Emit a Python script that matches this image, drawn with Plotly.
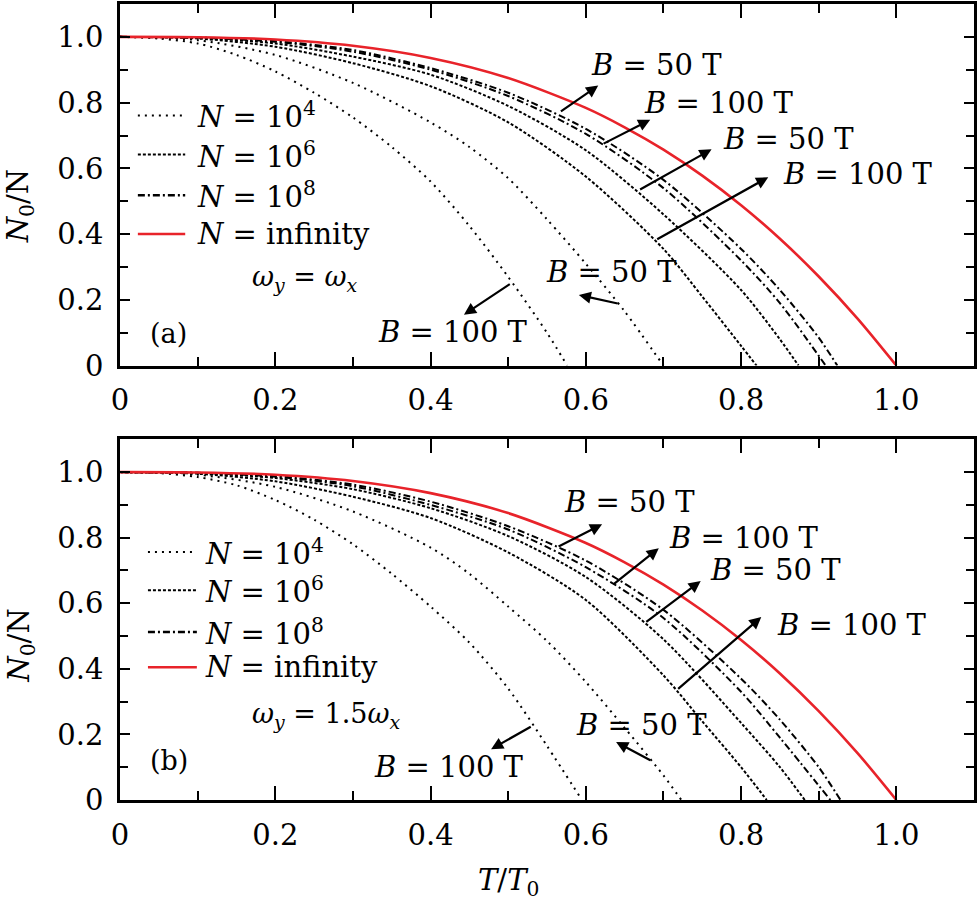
import plotly.graph_objects as go

# ---------------- data ----------------
t_inf = [0, 0.1, 0.2, 0.3, 0.4, 0.5, 0.6, 0.65, 0.7, 0.75, 0.8, 0.85, 0.9, 0.95, 1.0]
n_inf = [1.0, 0.999, 0.992, 0.973, 0.936, 0.875, 0.784, 0.725, 0.657, 0.578, 0.488, 0.386, 0.271, 0.143, 0.0]

# panel (a): omega_y = omega_x
a_t_4_100 = [0, 0.05, 0.1, 0.15, 0.2, 0.25, 0.3, 0.35, 0.4, 0.45, 0.5, 0.55, 0.576]
a_n_4_100 = [1, 0.995, 0.98, 0.945, 0.895, 0.83, 0.755, 0.665, 0.56, 0.425, 0.27, 0.1, 0]
a_t_4_50 = [0, 0.1, 0.2, 0.3, 0.4, 0.45, 0.5, 0.55, 0.6, 0.65, 0.7]
a_n_4_50 = [1, 0.99, 0.945, 0.86, 0.74, 0.665, 0.57, 0.445, 0.31, 0.165, 0]
a_t_6_100 = [0, 0.1, 0.2, 0.3, 0.4, 0.5, 0.6, 0.7, 0.75, 0.8, 0.82]
a_n_6_100 = [1, 0.995, 0.97, 0.92, 0.85, 0.74, 0.575, 0.355, 0.21, 0.06, 0]
a_t_6_50 = [0, 0.1, 0.2, 0.3, 0.4, 0.5, 0.6, 0.7, 0.8, 0.85, 0.874]
a_n_6_50 = [1, 0.997, 0.98, 0.94, 0.885, 0.79, 0.655, 0.46, 0.23, 0.08, 0]
a_t_8_100 = [0, 0.1, 0.2, 0.3, 0.4, 0.5, 0.6, 0.7, 0.8, 0.85, 0.909]
a_n_8_100 = [1, 0.998, 0.985, 0.955, 0.9, 0.82, 0.705, 0.54, 0.32, 0.19, 0]
a_t_8_50 = [0, 0.1, 0.2, 0.3, 0.4, 0.5, 0.6, 0.7, 0.8, 0.85, 0.9, 0.924]
a_n_8_50 = [1, 0.998, 0.987, 0.96, 0.905, 0.83, 0.72, 0.565, 0.355, 0.23, 0.085, 0]

# panel (b): omega_y = 1.5 omega_x
b_t_4_100 = [0, 0.05, 0.1, 0.15, 0.2, 0.25, 0.3, 0.35, 0.4, 0.45, 0.5, 0.55, 0.595]
b_n_4_100 = [1, 0.997, 0.985, 0.96, 0.915, 0.855, 0.78, 0.69, 0.59, 0.48, 0.34, 0.165, 0]
b_t_4_50 = [0, 0.1, 0.2, 0.3, 0.4, 0.45, 0.5, 0.55, 0.6, 0.65, 0.7, 0.723]
b_n_4_50 = [1, 0.992, 0.955, 0.88, 0.77, 0.69, 0.59, 0.485, 0.36, 0.22, 0.075, 0]
b_t_6_100 = [0, 0.1, 0.2, 0.3, 0.4, 0.5, 0.6, 0.7, 0.75, 0.8, 0.833]
b_n_6_100 = [1, 0.995, 0.972, 0.925, 0.86, 0.755, 0.61, 0.38, 0.24, 0.1, 0]
b_t_6_50 = [0, 0.1, 0.2, 0.3, 0.4, 0.5, 0.6, 0.7, 0.8, 0.85, 0.882]
b_n_6_50 = [1, 0.997, 0.982, 0.948, 0.89, 0.805, 0.68, 0.49, 0.235, 0.1, 0]
b_t_8_100 = [0, 0.1, 0.2, 0.3, 0.4, 0.5, 0.6, 0.7, 0.8, 0.85, 0.915]
b_n_8_100 = [1, 0.998, 0.986, 0.957, 0.9, 0.825, 0.71, 0.555, 0.33, 0.19, 0]
b_t_8_50 = [0, 0.1, 0.2, 0.3, 0.4, 0.5, 0.6, 0.7, 0.8, 0.85, 0.9, 0.928]
b_n_8_50 = [1, 0.998, 0.988, 0.962, 0.91, 0.835, 0.73, 0.58, 0.37, 0.245, 0.1, 0]

tick_vals = [0, 0.2, 0.4, 0.6, 0.8, 1.0]
tick_text = ["0", "0.2", "0.4", "0.6", "0.8", "1.0"]

legend_labels = ["<i>N</i> = 10<sup>4</sup>", "<i>N</i> = 10<sup>6</sup>",
                 "<i>N</i> = 10<sup>8</sup>", "<i>N</i> = infinity"]

# (label, tail x, tail y, head x, head y, text x(left), text y)
a_notes = [
    ("<i>B</i> = 50 T", 0.566, 0.770, 0.616, 0.852, 0.604, 0.915),
    ("<i>B</i> = 100 T", 0.621, 0.673, 0.683, 0.748, 0.672, 0.800),
    ("<i>B</i> = 50 T", 0.668, 0.533, 0.762, 0.658, 0.774, 0.688),
    ("<i>B</i> = 100 T", 0.690, 0.382, 0.835, 0.573, 0.851, 0.582),
    ("<i>B</i> = 50 T", 0.643, 0.188, 0.591, 0.215, 0.546, 0.285),
    ("<i>B</i> = 100 T", 0.504, 0.251, 0.443, 0.155, 0.330, 0.103),
]
b_notes = [
    ("<i>B</i> = 50 T", 0.563, 0.771, 0.621, 0.841, 0.569, 0.909),
    ("<i>B</i> = 100 T", 0.634, 0.655, 0.694, 0.768, 0.704, 0.799),
    ("<i>B</i> = 50 T", 0.676, 0.540, 0.748, 0.668, 0.758, 0.701),
    ("<i>B</i> = 100 T", 0.717, 0.335, 0.826, 0.558, 0.844, 0.534),
    ("<i>B</i> = 50 T", 0.685, 0.119, 0.639, 0.177, 0.585, 0.229),
    ("<i>B</i> = 100 T", 0.531, 0.226, 0.478, 0.155, 0.324, 0.101),
]

FONT = "DejaVu Serif"
FS = 29
RED = "#e8232a"
DASH4 = "2px,5px"
DASH6 = "3px,2px"
DASH8 = "7px,3px,2px,3px"

fig = go.Figure()

def add_panel(xa, ya, series):
    for t, n, dash, color, w in series:
        fig.add_trace(go.Scatter(x=t, y=n, mode="lines", xaxis=xa, yaxis=ya,
                                 line=dict(color=color, width=w, dash=dash, shape="spline", smoothing=0.8),
                                 showlegend=False, hoverinfo="skip"))

add_panel("x", "y", [
    (a_t_4_100, a_n_4_100, DASH4, "black", 2),
    (a_t_4_50, a_n_4_50, DASH4, "black", 2),
    (a_t_6_100, a_n_6_100, DASH6, "black", 2),
    (a_t_6_50, a_n_6_50, DASH6, "black", 2),
    (a_t_8_100, a_n_8_100, DASH8, "black", 2),
    (a_t_8_50, a_n_8_50, DASH8, "black", 2),
    (t_inf, n_inf, "solid", RED, 2.6),
])
add_panel("x2", "y2", [
    (b_t_4_100, b_n_4_100, DASH4, "black", 2),
    (b_t_4_50, b_n_4_50, DASH4, "black", 2),
    (b_t_6_100, b_n_6_100, DASH6, "black", 2),
    (b_t_6_50, b_n_6_50, DASH6, "black", 2),
    (b_t_8_100, b_n_8_100, DASH8, "black", 2),
    (b_t_8_50, b_n_8_50, DASH8, "black", 2),
    (t_inf, n_inf, "solid", RED, 2.6),
])

def xaxis_cfg(anchor):
    return dict(range=[0, 1.1], tickmode="array", tickvals=tick_vals, ticktext=tick_text,
                ticks="inside", ticklen=14, tickwidth=2, tickcolor="black",
                minor=dict(dtick=0.1, tick0=0, ticks="inside", ticklen=9, tickwidth=2, tickcolor="black"),
                mirror="ticks", showline=True, linewidth=2.5, linecolor="black",
                showgrid=False, zeroline=False, anchor=anchor,
                tickfont=dict(family=FONT, size=FS, color="black"), ticklabelstandoff=7)

def yaxis_cfg(anchor, domain):
    return dict(range=[0, 1.1], tickmode="array", tickvals=tick_vals, ticktext=tick_text,
                ticks="inside", ticklen=10, tickwidth=2, tickcolor="black",
                minor=dict(dtick=0.1, tick0=0, ticks="inside", ticklen=8, tickwidth=2, tickcolor="black"),
                mirror="ticks", showline=True, linewidth=2.5, linecolor="black",
                showgrid=False, zeroline=False, anchor=anchor, domain=domain,
                tickfont=dict(family=FONT, size=FS, color="black"), ticklabelstandoff=8)

annotations = []
shapes = []

def legend(xr, yr, sx0, sx1, tx, rows, omega_text, omega_x, omega_y, omega_shift, panel_text, px, py):
    styles = [(DASH4, "black", 2), (DASH6, "black", 2), (DASH8, "black", 2.5), ("solid", RED, 2.5)]
    for (dash, color, w), label, ry in zip(styles, legend_labels, rows):
        shapes.append(dict(type="line", xref=xr, yref=yr, x0=sx0, x1=sx1, y0=ry, y1=ry,
                           line=dict(color=color, width=w, dash=dash)))
        annotations.append(dict(xref=xr, yref=yr, x=tx, y=ry, text=label, showarrow=False,
                                xanchor="left", yanchor="middle", align="left",
                                font=dict(family=FONT, size=FS, color="black")))
    annotations.append(dict(xref=xr, yref=yr, x=omega_x, y=omega_y, text=omega_text, showarrow=False,
                            xanchor="left", yanchor="middle", align="left", xshift=omega_shift,
                            font=dict(family=FONT, size=FS - 2, color="black")))
    annotations.append(dict(xref=xr, yref=yr, x=px, y=py, text=panel_text, showarrow=False,
                            xanchor="center", yanchor="middle",
                            font=dict(family=FONT, size=FS - 2, color="black")))

legend("x", "y", 0.023, 0.084, 0.096, [0.761, 0.642, 0.518, 0.400],
       "<i>ω<sub>y</sub></i> = <i>ω<sub>x</sub></i>", 0.103, 0.264, 50, "(a)", 0.063, 0.097)
legend("x2", "y2", 0.036, 0.099, 0.107, [0.756, 0.640, 0.512, 0.405],
       "<i>ω<sub>y</sub></i> = 1.5<i>ω<sub>x</sub></i>", 0.109, 0.259, 45, "(b)", 0.063, 0.122)

def notes(xr, yr, items):
    for label, tx0, ty0, hx, hy, lx, ly in items:
        annotations.append(dict(xref=xr, yref=yr, axref=xr, ayref=yr, x=hx, y=hy, ax=tx0, ay=ty0,
                                text="", showarrow=True, arrowhead=2, arrowsize=1.1, arrowwidth=2.2,
                                arrowcolor="black", standoff=0, startstandoff=0))
        annotations.append(dict(xref=xr, yref=yr, x=lx, y=ly, text=label, showarrow=False,
                                xanchor="left", yanchor="middle", align="left",
                                font=dict(family=FONT, size=FS, color="black")))

notes("x", "y", a_notes)
notes("x2", "y2", b_notes)

# axis titles
annotations.append(dict(xref="paper", yref="paper", x=-0.117, y=(800 - 204) / 799,
                        text="<i>N</i><sub>0</sub>/N", textangle=-90, showarrow=False,
                        xanchor="center", yanchor="middle", font=dict(family=FONT, size=FS, color="black")))
annotations.append(dict(xref="paper", yref="paper", x=-0.117, y=(800 - 645) / 799,
                        text="<i>N</i><sub>0</sub>/N", textangle=-90, showarrow=False,
                        xanchor="center", yanchor="middle", font=dict(family=FONT, size=FS, color="black")))
annotations.append(dict(xref="x2", yref="paper", x=0.5, y=(800 - 882) / 799,
                        text="<i>T</i>/<i>T</i><sub>0</sub>", showarrow=False,
                        xanchor="center", yanchor="middle", font=dict(family=FONT, size=FS, color="black")))

fig.update_layout(
    width=978, height=906,
    margin=dict(l=120, r=2, t=1, b=106),
    paper_bgcolor="white", plot_bgcolor="white",
    xaxis=xaxis_cfg("y"),
    yaxis=yaxis_cfg("x", [0.5457, 1.0]),
    xaxis2=xaxis_cfg("y2"),
    yaxis2=yaxis_cfg("x2", [0.0, 0.4531]),
    annotations=annotations,
    shapes=shapes,
    showlegend=False,
)

fig.write_html("out.html", config={"displayModeBar": False},
               post_script="document.body.style.margin='0';document.body.style.padding='0';"
                           "document.body.style.overflow='hidden';"
                           "document.documentElement.style.overflow='hidden';")
